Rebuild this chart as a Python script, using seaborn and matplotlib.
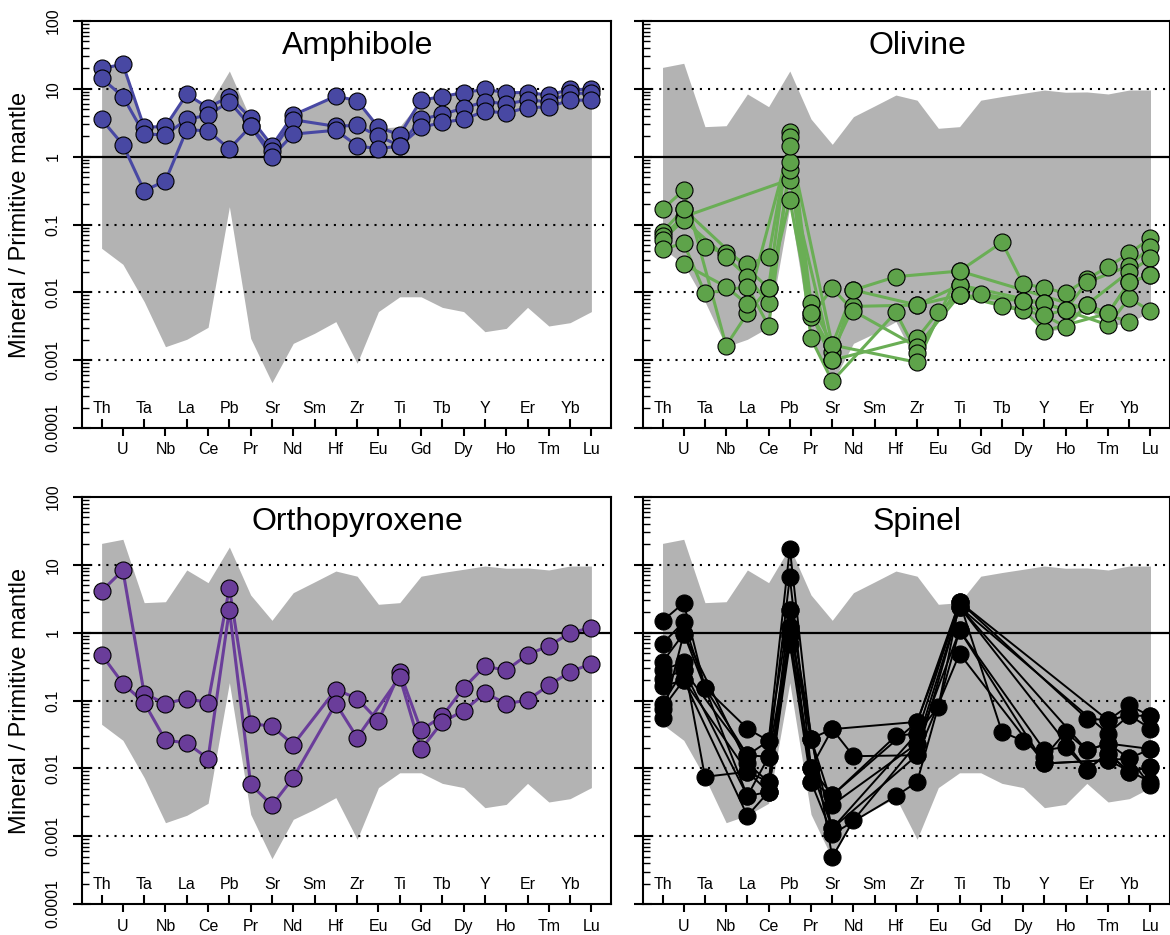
import numpy as np
import pandas as pd
import matplotlib
matplotlib.use("Agg")
import matplotlib.pyplot as plt
import matplotlib.ticker as mticker
import seaborn as sns

nan = np.nan

elements = ["Th", "U", "Ta", "Nb", "La", "Ce", "Pb", "Pr", "Sr", "Nd", "Sm", "Hf",
            "Zr", "Eu", "Ti", "Gd", "Tb", "Dy", "Y", "Ho", "Er", "Tm", "Yb", "Lu"]

# range of published mantle-mineral compositions (grey field)
band_upper = [20.7, 23.8, 2.77, 2.86, 8.4, 5.46, 18.3, 3.59, 1.52, 3.89, 5.6, 8.1,
              6.8, 2.62, 2.77, 6.8, 7.7, 8.6, 9.6, 8.9, 9.0, 8.4, 9.6, 9.6]
band_lower = [0.0446, 0.0259, 0.0073, 0.00158, 0.00203, 0.00305, 0.183, 0.0021,
              0.000466, 0.00177, 0.00249, 0.0037, 0.0009, 0.0052, 0.0086, 0.0086,
              0.006, 0.0052, 0.00263, 0.00294, 0.006, 0.00319, 0.00357, 0.0052]

# Th   U     Ta    Nb    La    Ce    Pb   Pr    Sr    Nd   Sm   Hf   Zr   Eu   Ti   Gd   Tb   Dy   Y    Ho   Er   Tm   Yb   Lu
amphibole = [
    [20, 23, 2.7, 2.8, 8.3, 5.3, 7.7, 3.7, 1.45, 4.1, nan, 7.8, 6.7, 2.7, 2.1, 6.8, 7.7, 8.8, 9.8, 8.8, 8.8, 8.1, 9.8, 9.8],
    [14.3, 7.7, 2.15, 2.1, 3.55, 4.1, 6.5, 2.8, 1.2, 3.5, nan, 2.8, 2.9, 2.0, 1.45, 3.55, 4.2, 5.2, 6.5, 6.0, 6.8, 6.5, 8.6, 8.6],
    [3.55, 1.5, 0.315, 0.44, 2.5, 2.4, 1.3, 2.8, 1.0, 2.15, nan, 2.45, 1.45, 1.3, 1.45, 2.7, 3.2, 3.55, 4.7, 4.4, 5.3, 5.4, 6.8, 6.8],
]

olivine = [
    [0.168, 0.32, nan, 0.00164, 0.0049, 0.0115, 2.34, 0.0069, 0.00167, 0.0108, nan, 0.017, nan, nan, 0.0206, nan, 0.0546, 0.0133, 0.0117, 0.0097, 0.0156, 0.0239, 0.0376, 0.0625],
    [0.078, 0.168, 0.047, 0.0376, 0.026, 0.0336, 1.97, 0.0049, 0.00133, 0.0062, nan, nan, 0.0065, nan, 0.0128, 0.0095, nan, 0.0075, 0.0069, 0.0055, 0.014, nan, 0.0247, 0.047],
    [0.068, 0.13, nan, nan, nan, nan, 0.46, nan, 0.001, nan, nan, nan, 0.0021, 0.0052, 0.0091, nan, 0.0063, nan, 0.0046, 0.0031, 0.0066, nan, 0.0202, 0.0317],
    [0.059, 0.116, nan, 0.033, 0.017, 0.0069, 0.64, 0.0044, 0.0115, 0.0053, nan, nan, 0.00158, nan, 0.0091, nan, nan, 0.0055, 0.0027, nan, nan, 0.0049, 0.0141, 0.018],
    [0.043, 0.053, 0.0097, nan, 0.0121, 0.0032, 0.84, 0.0021, 0.00049, nan, nan, 0.0051, 0.00126, nan, 0.0128, nan, nan, nan, 0.0069, nan, nan, 0.0033, 0.0082, 0.0053],
    [nan, 0.026, nan, 0.0121, 0.00665, nan, 1.45, nan, 0.00167, nan, nan, nan, 0.00093, nan, 0.0206, nan, nan, nan, nan, nan, nan, nan, 0.0037, nan],
    [nan, 0.168, nan, nan, nan, 0.0115, 0.23, 0.0049, 0.001, 0.0108, nan, nan, 0.0065, nan, 0.0091, nan, nan, 0.0075, 0.0046, 0.0055, 0.0066, 0.0049, 0.0141, 0.018],
]

orthopyroxene = [
    [4.1, 8.3, 0.126, 0.09, 0.107, 0.093, 4.56, 0.0457, 0.0418, 0.0224, nan, 0.145, 0.107, 0.05, 0.264, 0.0365, 0.059, 0.153, 0.32, 0.279, 0.475, 0.638, 0.99, 1.19],
    [0.475, 0.178, 0.093, 0.026, 0.0237, 0.0139, 2.19, 0.0058, 0.00286, 0.0073, nan, 0.09, 0.0284, nan, 0.222, 0.0191, 0.0484, 0.0703, 0.129, 0.09, 0.101, 0.168, 0.264, 0.35],
]

spinel = [
    [1.49, 2.74, 0.155, nan, 0.0385, 0.0254, 17.3, 0.0275, 0.0378, nan, nan, nan, 0.0484, nan, 2.84, nan, nan, nan, nan, nan, 0.0542, 0.0512, 0.085, 0.0586],
    [0.69, 1.44, 0.155, nan, 0.0156, 0.0148, 6.6, 0.0102, 0.0378, 0.0151, nan, nan, 0.0156, nan, 2.39, nan, nan, nan, nan, nan, nan, 0.0326, 0.0607, 0.0385],
    [0.37, 0.97, nan, nan, 0.0118, 0.0063, 2.19, 0.0063, 0.004, nan, nan, 0.0301, 0.0326, 0.0805, 2.84, nan, 0.0344, 0.0254, 0.0148, 0.0344, 0.0185, 0.0232, 0.014, 0.0193],
    [0.28, 0.37, 0.0075, nan, 0.0089, 0.0045, 1.21, 0.0275, 0.0029, nan, nan, nan, 0.0232, nan, 1.08, nan, nan, nan, 0.0185, 0.0207, 0.0096, 0.0165, 0.0089, 0.0105],
    [0.21, 0.28, nan, nan, 0.0039, 0.0148, 0.92, 0.0102, 0.0013, nan, nan, nan, 0.0156, nan, 0.49, nan, nan, nan, 0.0118, nan, nan, 0.0132, nan, 0.0063],
    [0.162, 0.2, nan, nan, 0.002, 0.0045, 0.69, 0.0063, 0.00107, nan, nan, 0.0039, 0.0063, nan, 1.08, nan, nan, nan, 0.0118, nan, nan, 0.0132, 0.014, 0.0056],
    [0.09, 0.28, nan, nan, 0.0156, 0.0254, 2.19, nan, 0.00049, 0.00172, nan, nan, 0.0232, nan, 2.39, nan, nan, nan, nan, nan, 0.0185, 0.0232, nan, 0.0193],
    [0.076, 0.2, nan, nan, 0.0089, 0.0063, 1.21, 0.0275, 0.0013, nan, nan, nan, 0.0326, nan, 2.84, nan, nan, nan, nan, nan, nan, 0.0512, 0.0607, 0.0586],
    [0.056, 0.97, nan, nan, 0.0039, 0.0045, 0.92, 0.0102, 0.004, nan, nan, nan, 0.0484, nan, 2.39, nan, nan, nan, nan, nan, 0.0096, 0.0165, 0.0089, 0.0105],
]

panels = [
    ("Amphibole", amphibole, "#4848A3", "#4848A3", 2.2),
    ("Olivine", olivine, "#5EA34A", "#6AAE55", 2.2),
    ("Orthopyroxene", orthopyroxene, "#6A3D9A", "#6A3D9A", 2.2),
    ("Spinel", spinel, "#000000", "#000000", 1.4),
]

sns.set_theme(style="white")
plt.rcParams["font.family"] = ["Liberation Sans", "DejaVu Sans"]
plt.rcParams["axes.linewidth"] = 1.5
for key in ["text.color", "axes.labelcolor", "xtick.color", "ytick.color", "axes.edgecolor"]:
    plt.rcParams[key] = "black"

W, H = 1170, 935
fig = plt.figure(figsize=(W / 100, H / 100), dpi=100)
fig.patch.set_facecolor("white")

# axes boxes in pixels: (left, top, right, bottom)
boxes = [(82, 21, 611, 428), (643, 21, 1170, 428),
         (82, 497, 611, 904), (643, 497, 1170, 904)]

pos = np.arange(1, len(elements) + 1)
ytick_vals = [1e-4, 1e-3, 1e-2, 1e-1, 1, 10, 100]
ytick_txt = ["0.0001", "0.001", "0.01", "0.1", "1", "10", "100"]

for i, ((name, samples, fill, line, lw), (l, t, r, b)) in enumerate(zip(panels, boxes)):
    ax = fig.add_axes([l / W, 1 - b / H, (r - l) / W, (b - t) / H])
    ax.set_yscale("log")
    ax.set_facecolor("white")

    ax.fill_between(pos, band_lower, band_upper, color="#B3B3B3", lw=0, zorder=1)
    for v in [10, 0.1, 0.01, 0.001]:
        ax.axhline(v, color="black", lw=1.5, ls=(0, (1, 2.9)), zorder=2)
    ax.axhline(1, color="black", lw=1.6, zorder=2)

    rows = []
    for k, s in enumerate(samples):
        for p, v in zip(pos, s):
            if not np.isnan(v):
                rows.append({"sample": k, "pos": p, "value": v})
    df = pd.DataFrame(rows)

    sns.lineplot(data=df, x="pos", y="value", units="sample", estimator=None,
                 sort=False, color=line, lw=lw, ax=ax, zorder=3, legend=False)
    sns.scatterplot(data=df, x="pos", y="value", color=fill, s=150,
                    edgecolor="black", linewidth=0.8, ax=ax, zorder=4, legend=False)

    ax.set_xlim(0.08, 24.92)
    ax.set_ylim(1e-4, 100)
    ax.set_xlabel("")
    ax.set_ylabel("")

    ax.text(13, 33, name, ha="center", va="baseline", fontsize=23, color="black", zorder=5)

    # y axis: R-style log ticks
    ax.yaxis.set_major_locator(mticker.FixedLocator(ytick_vals))
    ax.yaxis.set_minor_locator(mticker.LogLocator(base=10, subs=np.arange(2, 10), numticks=30))
    ax.yaxis.set_minor_formatter(mticker.NullFormatter())
    left = i % 2 == 0
    ax.set_yticks(ytick_vals, labels=ytick_txt if left else [""] * 7)
    ax.tick_params(axis="y", which="major", direction="inout", length=13, width=1.5,
                   labelsize=11.5, pad=14.5, left=True, labelleft=left, colors="black")
    ax.tick_params(axis="y", which="minor", direction="in", length=5, width=1.0,
                   left=True, colors="black")
    for lab in ax.get_yticklabels():
        lab.set_rotation(90)
        lab.set_ha("center")
        lab.set_va("center")

    # x axis: alternate element labels inside / below the frame
    ax.set_xticks(pos[1::2], labels=elements[1::2])
    ax.set_xticks(pos[0::2], labels=elements[0::2], minor=True)
    below_pad = 9.4 if i < 2 else 10.6
    ax.tick_params(axis="x", which="major", direction="out", length=5.8, width=1.5,
                   labelsize=11.5, pad=below_pad, bottom=True, colors="black")
    ax.tick_params(axis="x", which="minor", direction="in", length=6.5, width=1.5,
                   labelsize=11.5, pad=-13.7, bottom=True, labelbottom=True, colors="black")
    for lab in ax.get_xticklabels(which="both"):
        lab.set_va("center")

    for sp in ax.spines.values():
        sp.set_visible(True)
        sp.set_color("black")
        sp.set_linewidth(1.5)

    if left:
        fig.text(20.5 / W, 1 - ((t + b) / 2) / H, "Mineral / Primitive mantle",
                 rotation=90, ha="center", va="center", fontsize=17, color="black")

fig.savefig("out.png", dpi=100, facecolor="white")
